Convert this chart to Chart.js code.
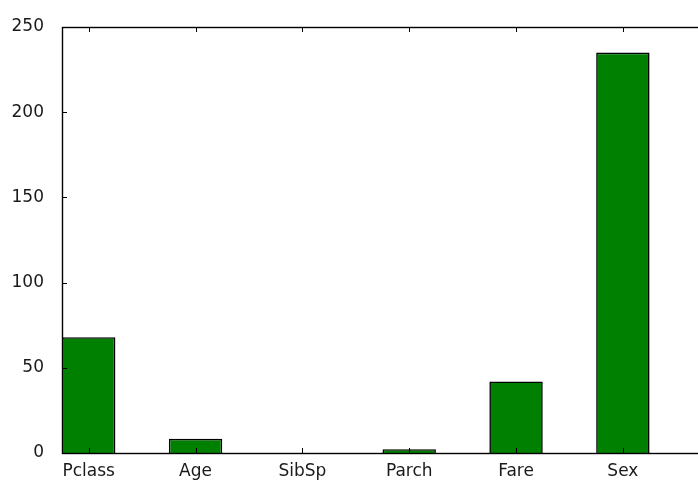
<!DOCTYPE html>
<html>
<head>
<meta charset="utf-8">
<script src="https://cdn.jsdelivr.net/npm/chart.js@4/dist/chart.umd.min.js"></script>
<style>
  html, body { margin: 0; padding: 0; background: #fff; overflow: hidden; }
  #wrap { width: 698px; height: 482px; overflow: hidden; }
</style>
</head>
<body>
<div id="wrap"><canvas id="chart" width="706" height="482"></canvas></div>
<script>
// chart data
var categories = ["Pclass", "Age", "SibSp", "Parch", "Fare", "Sex"];
var counts = [68, 8.3, 0, 2.2, 42, 235];
var yTicks = [0, 50, 100, 150, 200, 250];

// box + inward ticks, matplotlib classic look
var frameTicks = {
  id: "frameTicks",
  afterDatasetsDraw: function(chart) {
    var ctx = chart.ctx;
    var a = chart.chartArea;
    var xs = chart.scales.x, ys = chart.scales.y;
    var len = 5;
    ctx.save();
    ctx.strokeStyle = "#000";
    ctx.lineWidth = 1;
    ctx.beginPath();
    categories.forEach(function(c, i) {
      var px = Math.round(xs.getPixelForValue(i)) + 0.5;
      ctx.moveTo(px, a.bottom);
      ctx.lineTo(px, a.bottom - len);
      ctx.moveTo(px, a.top);
      ctx.lineTo(px, a.top + len);
    });
    yTicks.forEach(function(v) {
      var py = Math.round(ys.getPixelForValue(v)) + 0.5;
      ctx.moveTo(a.left, py);
      ctx.lineTo(a.left + len, py);
      ctx.moveTo(a.right, py);
      ctx.lineTo(a.right - len, py);
    });
    ctx.stroke();
    ctx.lineWidth = 1.4;
    ctx.strokeRect(Math.round(a.left) + 0.5, Math.round(a.top) + 0.5,
      Math.round(a.right - a.left), Math.round(a.bottom - a.top));
    ctx.restore();
  }
};

document.addEventListener("DOMContentLoaded", function() {
  var ctx = document.getElementById("chart").getContext("2d");
  new Chart(ctx, {
    type: "bar",
    data: {
      datasets: [{
        data: categories.map(function(c, i) { return { x: i, y: counts[i] }; }),
        backgroundColor: "#008000",
        borderColor: "#000",
        borderWidth: 1.6,
        barPercentage: 0.5,
        categoryPercentage: 1.0
      }]
    },
    options: {
      responsive: false,
      animation: false,
      devicePixelRatio: 1,
      layout: { padding: { left: 0, top: 27, right: 3, bottom: 0 } },
      plugins: { legend: { display: false }, tooltip: { enabled: false } },
      scales: {
        x: {
          type: "linear",
          min: -0.25,
          max: 5.75,
          offset: false,
          grid: { display: false, offset: false },
          border: { display: false },
          afterBuildTicks: function(scale) {
            scale.ticks = categories.map(function(c, i) { return { value: i }; });
          },
          afterFit: function(scale) { scale.height = 29; },
          ticks: {
            padding: 0,
            maxRotation: 0,
            autoSkip: false,
            color: "#1a1a1a",
            font: { family: "DejaVu Sans", size: 17 },
            callback: function(v) { return categories[v]; }
          }
        },
        y: {
          min: 0,
          max: 250,
          grid: { display: false },
          border: { display: false },
          afterFit: function(scale) { scale.width = 62; },
          ticks: {
            stepSize: 50,
            padding: 10,
            color: "#1a1a1a",
            font: { family: "DejaVu Sans", size: 17 }
          }
        }
      }
    },
    plugins: [frameTicks]
  });
});
</script>
</body>
</html>
